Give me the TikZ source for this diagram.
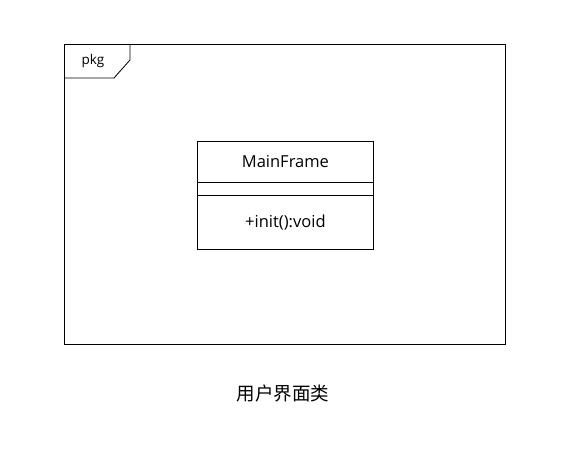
\documentclass[tikz,border=0pt]{standalone}
\usepackage{fontspec}
\setmainfont{Open Sans}
\newfontfamily\cjk{Noto Sans CJK SC}
\usetikzlibrary{positioning}

\begin{document}
\begin{tikzpicture}
      [x=1pt, y=-1pt,
      line width=0.8pt,
      pkg frame/.style={draw, rectangle, minimum width=441pt, minimum height=300pt, inner sep=0pt, anchor=north west},
      class part/.style={rectangle, minimum width=176pt, inner sep=0pt, align=center, font=\fontsize{16.5}{19}\selectfont}
      ]
      \useasboundingbox (0,0) rectangle (566,449);

      % package frame with its tab
      \node[pkg frame] (pkg) at (64,44) {};
      \draw (pkg.north west) ++(66,0) coordinate (tab ne) -- ++(0,16) -- ++(-16,18) coordinate (tab se) -- (pkg.north west |- tab se);
      \node[font=\fontsize{13.5}{16}\selectfont] (pkg label) at (93,61) {pkg};

      % class MainFrame
      \node[class part, minimum height=41pt, anchor=north west] (name) at (197,141) {MainFrame};
      \node[class part, minimum height=12pt, below=0pt of name] (attrs) {};
      \node[class part, minimum height=53pt, below=0pt of attrs] (ops) {+init():void};
      \draw (name.north west) rectangle (ops.south east);
      \draw (attrs.north west) -- (attrs.north east);
      \draw (ops.north west) -- (ops.north east);

      \node[font=\cjk\fontsize{18.5}{22}\selectfont] (caption) at (283,393) {用户界面类};
\end{tikzpicture}
\end{document}
